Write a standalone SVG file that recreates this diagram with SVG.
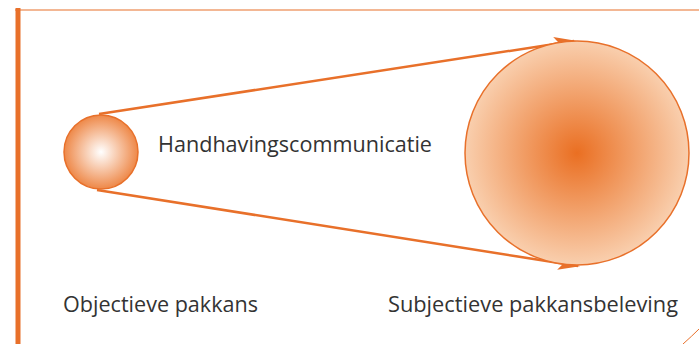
<svg xmlns="http://www.w3.org/2000/svg" width="699" height="344" viewBox="0 0 699 344">
<defs>
<radialGradient id="gSmall" cx="0.5" cy="0.5" r="0.5">
<stop offset="0" stop-color="#ffffff"/>
<stop offset="1" stop-color="#ee8848"/>
</radialGradient>
<radialGradient id="gBig" cx="0.5" cy="0.5" r="0.5">
<stop offset="0" stop-color="#ea6f22"/>
<stop offset="1" stop-color="#f9cfae"/>
</radialGradient>
<marker id="arr" markerWidth="22" markerHeight="14" refX="20" refY="7" orient="auto" markerUnits="userSpaceOnUse">
<path d="M0,0 L22,7 L0,14 L5,7 Z" fill="#e8702a"/>
</marker>
<style>
.lbl{font-family:"Open Sans","Noto Sans",sans-serif;font-size:21px;fill:#333333}
.edge{stroke:#e8702a;stroke-width:2.5;fill:none}
</style>
</defs>
<rect width="699" height="344" fill="#ffffff"/>
<g id="frame">
<line x1="15" y1="10" x2="699" y2="10" stroke="#e8702a" stroke-width="1.2"/>
<line x1="18" y1="8" x2="18" y2="344" stroke="#e8702a" stroke-width="5"/>
<path d="M683,344 Q692,336 699,329" stroke="#e8702a" stroke-width="1" fill="none"/>
</g>
<g id="connectors">
<path class="edge" d="M99,114 L574,41" marker-end="url(#arr)"/>
<path class="edge" d="M97,190 L578,266" marker-end="url(#arr)"/>
</g>
<g id="node-small">
<circle cx="101" cy="152" r="37" fill="url(#gSmall)" stroke="#e8702a" stroke-width="1.5"/>
</g>
<g id="node-big">
<circle cx="577" cy="153" r="112" fill="url(#gBig)" stroke="#e8702a" stroke-width="1.5"/>
</g>
<text class="lbl" x="158" y="152" textLength="274" lengthAdjust="spacingAndGlyphs">Handhavingscommunicatie</text>
<text class="lbl" x="63" y="312" textLength="195" lengthAdjust="spacingAndGlyphs">Objectieve pakkans</text>
<text class="lbl" x="388" y="312" textLength="290" lengthAdjust="spacingAndGlyphs">Subjectieve pakkansbeleving</text>
</svg>
